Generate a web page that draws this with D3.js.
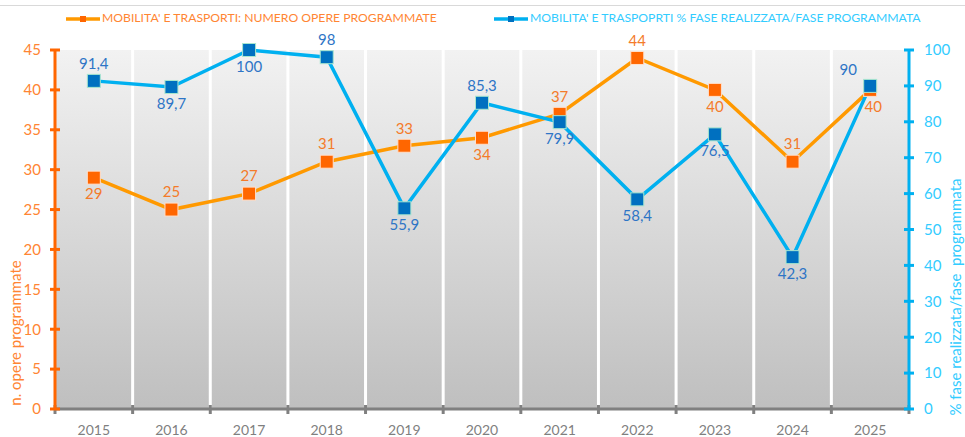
<!DOCTYPE html>
<html>
<head>
<meta charset="utf-8">
<script src="https://cdn.jsdelivr.net/npm/d3@7"></script>
<style>
  body { margin: 0; background: #fff; }
  svg { display: block; font-family: Lato, "Open Sans", sans-serif; }
</style>
</head>
<body>
<div class="chart"></div>
<script>
const years = ['2015', '2016', '2017', '2018', '2019', '2020', '2021', '2022', '2023', '2024', '2025'];
const opere = [29, 25, 27, 31, 33, 34, 37, 44, 40, 31, 40];
const fasePct = [91.4, 89.7, 100, 98, 55.9, 85.3, 79.9, 58.4, 76.5, 42.3, 90];
// label placement: -1 above, 1 below
const operePos = [1, -1, -1, -1, -1, 1, -1, -1, 1, -1, 1];
const fasePos = [-1, 1, 1, -1, 1, -1, 1, 1, 1, 1, -1];
const leftTicks = [0, 5, 10, 15, 20, 25, 30, 35, 40, 45];
const rightTicks = [0, 10, 20, 30, 40, 50, 60, 70, 80, 90, 100];

const chartWidth = 965;
const chartHeight = 437;
const margin = { left: 55, right: 56, top: 50, bottom: 28 };
const width = chartWidth - margin.left - margin.right;
const height = chartHeight - margin.top - margin.bottom;

const svg = d3.select('.chart')
  .append('svg')
  .attr('width', chartWidth)
  .attr('height', chartHeight);

// top border line
svg.append('line')
  .attr('x1', 0).attr('x2', chartWidth)
  .attr('y1', 5.5).attr('y2', 5.5)
  .attr('stroke', '#d9d9d9')
  .attr('stroke-width', 1);

const defs = svg.append('defs');
const grad = defs.append('linearGradient')
  .attr('id', 'bg')
  .attr('x1', 0).attr('y1', 0).attr('x2', 0).attr('y2', 1);
grad.append('stop').attr('offset', '0%').attr('stop-color', '#f2f2f2');
grad.append('stop').attr('offset', '100%').attr('stop-color', '#bfbfbf');

const g = svg.append('g')
  .attr('transform', `translate(${margin.left}, ${margin.top})`);

const xScale = d3.scaleBand()
  .domain(years)
  .range([0, width]);

const yLeft = d3.scaleLinear().domain([0, 45]).range([height, 0]);
const yRight = d3.scaleLinear().domain([0, 100]).range([height, 0]);

g.append('rect')
  .attr('width', width)
  .attr('height', height)
  .attr('fill', 'url(#bg)');

// white separators between categories
g.append('g')
  .selectAll('line')
  .data(years.slice(1))
  .enter()
  .append('line')
  .attr('x1', d => xScale(d))
  .attr('x2', d => xScale(d))
  .attr('y1', 0)
  .attr('y2', height)
  .attr('stroke', '#ffffff')
  .attr('stroke-width', 3);

// x axis
const xAxisG = g.append('g')
  .attr('transform', `translate(0, ${height})`);
xAxisG.append('line')
  .attr('x1', 0).attr('x2', width)
  .attr('stroke', '#808080')
  .attr('stroke-width', 3);
xAxisG.selectAll('line.tick')
  .data(d3.range(years.length + 1))
  .enter()
  .append('line')
  .attr('class', 'tick')
  .attr('x1', i => i * xScale.bandwidth())
  .attr('x2', i => i * xScale.bandwidth())
  .attr('y1', -4).attr('y2', 5)
  .attr('stroke', '#808080')
  .attr('stroke-width', 3);
xAxisG.selectAll('text')
  .data(years)
  .enter()
  .append('text')
  .attr('x', d => xScale(d) + xScale.bandwidth() / 2)
  .attr('y', 22)
  .attr('text-anchor', 'middle')
  .attr('dominant-baseline', 'middle')
  .attr('font-size', '14px')
  .attr('fill', '#7f7f7f')
  .text(d => d);

// left axis
const leftAxis = d3.axisLeft(yLeft).tickValues(leftTicks).tickSize(0).tickPadding(14);
const leftG = g.append('g').call(leftAxis);
leftG.select('.domain').remove();
leftG.selectAll('text').attr('fill', '#ff8533').attr('font-size', '15px').attr('font-family', 'Lato, sans-serif');
leftG.append('line')
  .attr('y1', -1).attr('y2', height + 1)
  .attr('stroke', '#ff6600').attr('stroke-width', 3);
leftG.selectAll('line.tk')
  .data(leftTicks)
  .enter()
  .append('line')
  .attr('class', 'tk')
  .attr('x1', -5).attr('x2', 5)
  .attr('y1', d => yLeft(d)).attr('y2', d => yLeft(d))
  .attr('stroke', '#ff6600').attr('stroke-width', 3);

// right axis
const rightAxis = d3.axisRight(yRight).tickValues(rightTicks).tickSize(0).tickPadding(15);
const rightG = g.append('g')
  .attr('transform', `translate(${width}, 0)`)
  .call(rightAxis);
rightG.select('.domain').remove();
rightG.selectAll('text').attr('fill', '#33ccff').attr('font-size', '15px').attr('font-family', 'Lato, sans-serif');
rightG.append('line')
  .attr('y1', -1).attr('y2', height + 1)
  .attr('stroke', '#00b0f0').attr('stroke-width', 3);
rightG.selectAll('line.tk')
  .data(rightTicks)
  .enter()
  .append('line')
  .attr('class', 'tk')
  .attr('x1', -5).attr('x2', 5)
  .attr('y1', d => yRight(d)).attr('y2', d => yRight(d))
  .attr('stroke', '#00b0f0').attr('stroke-width', 3);

// axis titles
svg.append('text')
  .attr('transform', `translate(17, 333) rotate(-90)`)
  .attr('text-anchor', 'middle')
  .attr('dominant-baseline', 'middle')
  .attr('font-size', '15px')
  .attr('fill', '#ff8533')
  .text('n. opere programmate');
svg.append('text')
  .attr('transform', `translate(957, 297) rotate(-90)`)
  .attr('text-anchor', 'middle')
  .attr('dominant-baseline', 'middle')
  .attr('font-size', '15px')
  .attr('fill', '#33ccff')
  .attr('xml:space', 'preserve')
  .text('% fase realizzata/fase  programmata');

const cx = d => xScale(d) + xScale.bandwidth() / 2;

// lines
const opereLine = d3.line()
  .x((d, i) => cx(years[i]))
  .y(d => yLeft(d));
const faseLine = d3.line()
  .x((d, i) => cx(years[i]))
  .y(d => yRight(d));

g.append('path')
  .datum(opere)
  .attr('d', opereLine)
  .attr('fill', 'none')
  .attr('stroke', '#ff9900')
  .attr('stroke-width', 3.5);

g.append('path')
  .datum(fasePct)
  .attr('d', faseLine)
  .attr('fill', 'none')
  .attr('stroke', '#00b0f0')
  .attr('stroke-width', 3.5);

const ms = 13;
g.append('g').selectAll('rect')
  .data(opere)
  .enter()
  .append('rect')
  .attr('x', (d, i) => cx(years[i]) - ms / 2)
  .attr('y', d => yLeft(d) - ms / 2)
  .attr('width', ms).attr('height', ms)
  .attr('fill', '#ff6600')
  .attr('stroke', '#ffe0cc')
  .attr('stroke-width', 1);

g.append('g').selectAll('rect')
  .data(fasePct)
  .enter()
  .append('rect')
  .attr('x', (d, i) => cx(years[i]) - ms / 2)
  .attr('y', d => yRight(d) - ms / 2)
  .attr('width', ms).attr('height', ms)
  .attr('fill', '#0070c0')
  .attr('stroke', '#a8e6cf')
  .attr('stroke-width', 1);

const fmt = v => String(v).replace('.', ',');
const offset = p => (p < 0 ? -16 : 18);

// data labels
g.append('g').selectAll('text')
  .data(opere)
  .enter()
  .append('text')
  .attr('x', (d, i) => cx(years[i]) + (i === opere.length - 1 ? 3 : 0))
  .attr('y', (d, i) => yLeft(d) + offset(operePos[i]))
  .attr('text-anchor', 'middle')
  .attr('dominant-baseline', 'middle')
  .attr('font-size', '15px')
  .attr('fill', '#f47b2a')
  .text(d => fmt(d));

g.append('g').selectAll('text')
  .data(fasePct)
  .enter()
  .append('text')
  .attr('x', (d, i) => cx(years[i]) - (i === fasePct.length - 1 ? 22 : 0))
  .attr('y', (d, i) => yRight(d) + offset(fasePos[i]) + (i === fasePct.length - 1 ? 1 : 0))
  .attr('text-anchor', 'middle')
  .attr('dominant-baseline', 'middle')
  .attr('font-size', '15px')
  .attr('fill', '#2e75c6')
  .text(d => fmt(d));

// legend
const legend = svg.append('g');
const legendItems = [
  { label: "MOBILITA' E TRASPORTI: NUMERO OPERE PROGRAMMATE", x: 66, line: '#ff9900', mark: '#ff6600', text: '#ff8533' },
  { label: "MOBILITA' E TRASPOPRTI % FASE REALIZZATA/FASE PROGRAMMATA", x: 494, line: '#00b0f0', mark: '#0070c0', text: '#33ccff' }
];
legendItems.forEach(it => {
  legend.append('line')
    .attr('x1', it.x).attr('x2', it.x + 34)
    .attr('y1', 19).attr('y2', 19)
    .attr('stroke', it.line).attr('stroke-width', 3.5);
  legend.append('rect')
    .attr('x', it.x + 14).attr('y', 16)
    .attr('width', 6).attr('height', 6)
    .attr('fill', it.mark);
  legend.append('text')
    .attr('x', it.x + 36).attr('y', 19)
    .attr('dominant-baseline', 'middle')
    .attr('font-size', '12.2px')
    .attr('fill', it.text)
    .text(it.label);
});
</script>
</body>
</html>
